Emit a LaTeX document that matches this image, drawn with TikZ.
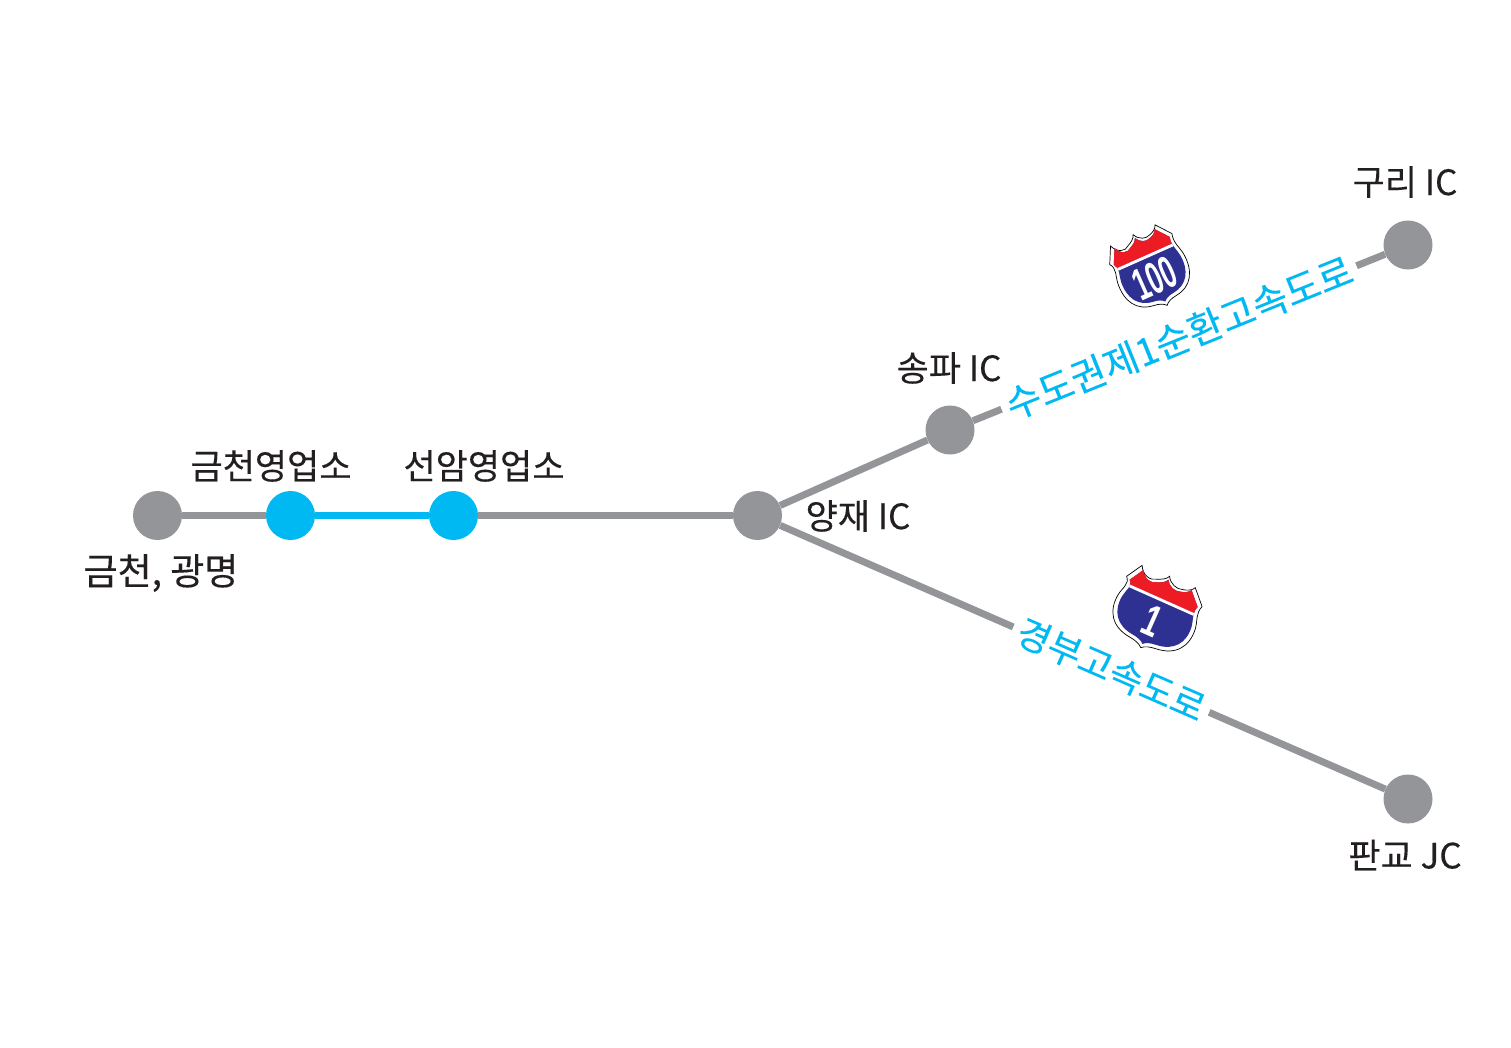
\documentclass[tikz,border=0pt]{standalone}
\usepackage{fontspec}
\setmainfont{Noto Sans CJK KR}[FakeBold=0.25]
\newfontfamily\shieldfont{Liberation Sans}
\usetikzlibrary{positioning}
\definecolor{RoadGray}{HTML}{939598}
\definecolor{TollCyan}{HTML}{00B9F2}
\definecolor{LabelInk}{HTML}{231F20}
\definecolor{ShieldBlue}{HTML}{2E3192}
\definecolor{ShieldRed}{HTML}{ED1C24}
\newcommand{\shieldoutline}{(-40.7,-17.7) -- (-31.3,-33.5)
  .. controls (-27,-25) and (-18,-23) .. (-13,-27)
  .. controls (-8,-29) and (-4,-31) .. (-2.6,-34.7)
  .. controls (1,-28) and (9,-26) .. (14,-28)
  .. controls (19,-29) and (23,-31) .. (24.7,-34.7)
  -- (38.2,-20.6)
  .. controls (35,-12) and (40,-6) .. (41,2)
  .. controls (43,20) and (34,33) .. (14,35)
  .. controls (8,35.5) and (3,37) .. (0,40)
  .. controls (-3,37) and (-8,35.5) .. (-14,35)
  .. controls (-34,33) and (-43,20) .. (-41,2)
  .. controls (-40,-6) and (-35,-12) .. (-40.7,-17.7) -- cycle}
\tikzset{
  pics/shield/.style={code={
    \draw[black,line width=.7pt,fill=white] \shieldoutline;
    \begin{scope}[scale=.9]
      \clip \shieldoutline;
      \fill[ShieldBlue] (-50,-50) rectangle (50,50);
      \fill[ShieldRed] (-50,-50) rectangle (50,-13);
      \fill[white] (-50,-13) rectangle (50,-10);
    \end{scope}
    \node[transform shape,text=white,font=\shieldfont\bfseries\fontsize{43}{43}\selectfont,inner sep=0pt,xscale=.68] (#1) at (0,12) {#1};
  }}
}
\begin{document}
\begin{tikzpicture}[
  x=1pt,y=-1pt,
  every node/.style={font=\fontsize{35}{35}\selectfont,text=LabelInk,inner sep=0pt},
  ic/.style={circle,fill=RoadGray,minimum size=49pt},
  toll/.style={circle,fill=TollCyan,minimum size=49pt},
  road/.style={draw=RoadGray,line width=7pt},
  tollroad/.style={draw=TollCyan,line width=7pt},
  roadname/.style={sloped,fill=white,text=TollCyan,font=\fontsize{38}{38}\selectfont,inner xsep=6pt,inner ysep=5pt}
]
\useasboundingbox (0,0) rectangle (1511,1047);
\node[ic] (geumcheon) at (157.5,515.5) {};
\node[toll] (geumcheonToll) at (290.5,515.5) {};
\node[toll] (seonamToll) at (453.5,515.5) {};
\node[ic] (yangjae) at (757.5,515.5) {};
\node[ic] (songpa) at (950,430) {};
\node[ic] (guri) at (1408,245) {};
\node[ic] (pangyo) at (1408,799) {};
\draw[road] (geumcheon)--(geumcheonToll);
\draw[tollroad] (geumcheonToll)--(seonamToll);
\draw[road] (seonamToll)--(yangjae);
\draw[road] (yangjae)--(songpa);
\draw[road] (songpa)--(guri) node[roadname,pos=.5] (ring) {수도권제1순환고속도로};
\draw[road] (yangjae)--(pangyo) node[roadname,pos=.547,font=\fontsize{36.5}{37}\selectfont] (gyeongbu) {경부고속도로};
\node (geumcheonLabel) at (271,466) {금천영업소};
\node (seonamLabel) at (484,466) {선암영업소};
\node[font=\fontsize{37}{37}\selectfont] (gwangmyeongLabel) at (161,573) {금천, 광명};
\node (yangjaeLabel) at (858,516) {양재 IC};
\node (songpaLabel) at (949,368) {송파 IC};
\node (guriLabel) at (1405,182) {구리 IC};
\node (pangyoLabel) at (1405,855) {판교 JC};
\pic[rotate=24,xscale=.88,yscale=1.05] at (1150,267) {shield=100};
\pic[rotate=-24,scale=1.03] at (1157.5,610) {shield=1};
\end{tikzpicture}
\end{document}
